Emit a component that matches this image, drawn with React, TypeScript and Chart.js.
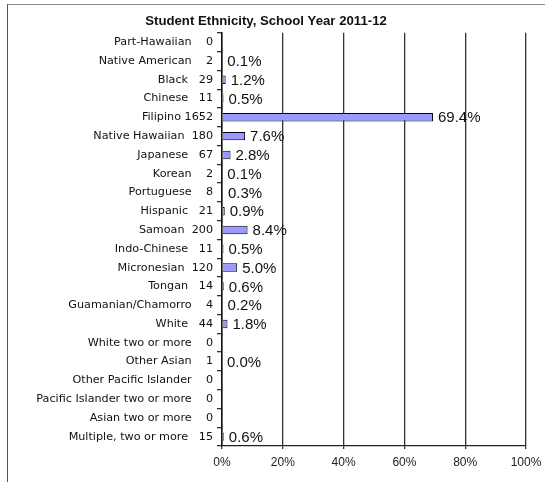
import React, { useEffect, useRef } from "react";
import { Chart, registerables } from "chart.js";

Chart.register(...registerables);

const TITLE = "Student Ethnicity, School Year 2011-12";

const categories = [
  "Part-Hawaiian",
  "Native American",
  "Black",
  "Chinese",
  "Filipino",
  "Native Hawaiian",
  "Japanese",
  "Korean",
  "Portuguese",
  "Hispanic",
  "Samoan",
  "Indo-Chinese",
  "Micronesian",
  "Tongan",
  "Guamanian/Chamorro",
  "White",
  "White two or more",
  "Other Asian",
  "Other Pacific Islander",
  "Pacific Islander two or more",
  "Asian two or more",
  "Multiple, two or more",
];

const counts = [0, 2, 29, 11, 1652, 180, 67, 2, 8, 21, 200, 11, 120, 14, 4, 44, 0, 1, 0, 0, 0, 15];

const percents = [0, 0.1, 1.2, 0.5, 69.4, 7.6, 2.8, 0.1, 0.3, 0.9, 8.4, 0.5, 5.0, 0.6, 0.2, 1.8, 0, 0.0, 0, 0, 0, 0.6];

const xTicks = [0, 20, 40, 60, 80, 100];

const axisLabels = categories.map((c, i) => c + " " + String(counts[i]).padStart(4, " "));

const barLabelPlugin = {
  id: "barLabels",
  afterDatasetsDraw(chart: any) {
    const ctx = chart.ctx;
    const meta = chart.getDatasetMeta(0);
    ctx.save();
    ctx.font = '15px "Liberation Sans", Arial, sans-serif';
    ctx.fillStyle = "#111";
    ctx.textAlign = "left";
    ctx.textBaseline = "middle";
    meta.data.forEach((bar: any, i: number) => {
      if (counts[i] > 0) {
        ctx.fillText(percents[i].toFixed(1) + "%", bar.x + 5, bar.y + 1);
      }
    });
    ctx.restore();
  },
};

export default function App() {
  const canvasRef = useRef<HTMLCanvasElement | null>(null);

  useEffect(() => {
    if (!canvasRef.current) return;
    const chart = new Chart(canvasRef.current, {
      type: "bar",
      data: {
        labels: axisLabels,
        datasets: [
          {
            data: percents,
            backgroundColor: "#9999FF",
            borderColor: "#000",
            borderWidth: 1,
            barPercentage: 0.45,
            categoryPercentage: 1,
          },
        ],
      },
      options: {
        indexAxis: "y",
        responsive: false,
        animation: false,
        devicePixelRatio: 1,
        layout: { padding: { left: 0, right: 13, top: 0, bottom: 0 } },
        plugins: {
          legend: { display: false },
          tooltip: { enabled: false },
          title: {
            display: true,
            text: TITLE,
            color: "#111",
            font: { family: '"Liberation Sans", Arial, sans-serif', size: 13.2, weight: "bold" },
            padding: { top: 13, bottom: 4 },
          },
        },
        scales: {
          x: {
            min: 0,
            max: 100,
            afterBuildTicks: (scale: any) => {
              scale.ticks = xTicks.map((v) => ({ value: v }));
            },
            afterFit: (scale: any) => {
              scale.height = 36;
              scale.paddingRight = 19;
            },
            ticks: {
              callback: (v: any) => v + "%",
              color: "#222",
              font: { family: '"Liberation Sans", Arial, sans-serif', size: 12 },
              padding: 6,
              maxRotation: 0,
            },
            grid: {
              color: "#333",
              lineWidth: 1.3,
              tickLength: 3,
            },
            border: { color: "#222", width: 1.3 },
          },
          y: {
            afterFit: (scale: any) => {
              scale.width = 222;
            },
            ticks: {
              color: "#111",
              font: { family: '"DejaVu Sans", sans-serif', size: 11.2 },
              padding: 4,
              autoSkip: false,
            },
            grid: {
              drawOnChartArea: false,
              drawTicks: true,
              tickLength: 5,
              offset: true,
              color: "#333",
              lineWidth: 1.3,
            },
            border: { color: "#111", width: 1.5 },
          },
        },
      },
      plugins: [barLabelPlugin],
    });
    return () => chart.destroy();
  }, []);

  return (
    <div style={{ position: "fixed", left: 0, top: 0, width: 545, height: 482, background: "#fff", overflow: "hidden" }}>
      <div
        style={{
          position: "absolute",
          left: 7,
          top: 4,
          width: 560,
          height: 500,
          borderLeft: "1.5px solid #555",
          borderTop: "1.5px solid #888",
        }}
      />
      <canvas ref={canvasRef} width={545} height={482} style={{ position: "absolute", left: 0, top: 0 }} />
    </div>
  );
}
